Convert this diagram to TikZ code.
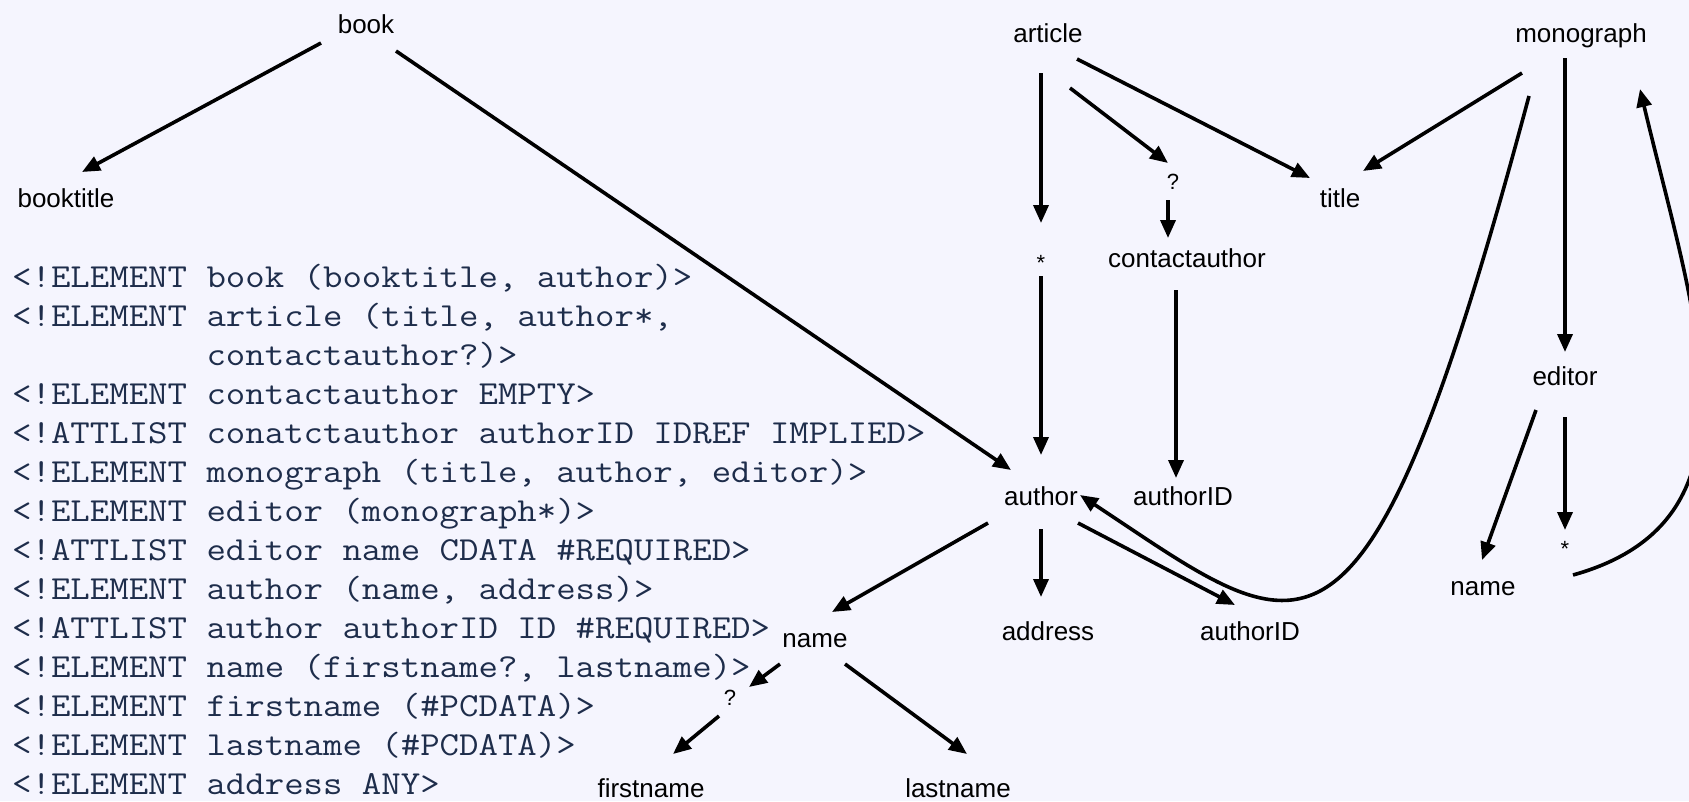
\documentclass[tikz,border=0pt]{standalone}
\usepackage{fontspec}
\usepackage{graphicx}
\setmainfont{Liberation Sans}
\usetikzlibrary{arrows.meta}

\definecolor{pagebg}{RGB}{245,245,254}
\definecolor{codeink}{RGB}{30,45,75}

\newcommand\labelsize{\fontsize{26}{30}\selectfont}
\newcommand\symsize{\fontsize{22}{26}\selectfont}
\newcommand\codesize{\fontsize{33.6}{39}\selectfont\ttfamily}
\newcommand\codetext[1]{\scalebox{1.123}[1]{#1}}

\tikzset{
  lbl/.style={font=\labelsize, inner sep=0pt, anchor=base},
  sym/.style={font=\symsize, inner sep=0pt, anchor=base},
  code/.style={font=\codesize, text=codeink, inner sep=0pt, anchor=base west},
  arr/.style={line width=3.6pt, -{Triangle[length=18pt,width=15pt]}},
}

\begin{document}
\begin{tikzpicture}[x=1pt,y=-1pt]
  \fill[pagebg] (0,0) rectangle (1689,801);
  \useasboundingbox (0,0) rectangle (1689,801);
  \clip (0,0) rectangle (1689,801);

  % DTD listing
  \node[code] (l1)  at (12,287) {\codetext{<!ELEMENT book (booktitle, author)>}};
  \node[code] (l2)  at (12,326) {\codetext{<!ELEMENT article (title, author*,}};
  \node[code] (l3)  at (12,365) {\codetext{\phantom{<!ELEMENT }contactauthor?)>}};
  \node[code] (l4)  at (12,404) {\codetext{<!ELEMENT contactauthor EMPTY>}};
  \node[code] (l5)  at (12,443) {\codetext{<!ATTLIST conatctauthor authorID IDREF IMPLIED>}};
  \node[code] (l6)  at (12,482) {\codetext{<!ELEMENT monograph (title, author, editor)>}};
  \node[code] (l7)  at (12,521) {\codetext{<!ELEMENT editor (monograph*)>}};
  \node[code] (l8)  at (12,560) {\codetext{<!ATTLIST editor name CDATA \#REQUIRED>}};
  \node[code] (l9)  at (12,599) {\codetext{<!ELEMENT author (name, address)>}};
  \node[code] (l10) at (12,638) {\codetext{<!ATTLIST author authorID ID \#REQUIRED>}};
  \node[code] (l11) at (12,677) {\codetext{<!ELEMENT name (firstname?, lastname)>}};
  \node[code] (l12) at (12,716) {\codetext{<!ELEMENT firstname (\#PCDATA)>}};
  \node[code] (l13) at (12,755) {\codetext{<!ELEMENT lastname (\#PCDATA)>}};
  \node[code] (l14) at (12,794) {\codetext{<!ELEMENT address ANY>}};

  % element tree
  \node[lbl] (book)      at (366,33)   {book};
  \node[lbl] (booktitle) at (66,207)   {booktitle};
  \node[lbl] (article)   at (1048,42)  {article};
  \node[lbl] (monograph) at (1581,42)  {monograph};
  \node[lbl] (title)     at (1340,207) {title};
  \node[sym] (q1)        at (1173,189) {?};
  \node[sym] (star1)     at (1041,270) {*};
  \node[lbl] (contact)   at (1187,267) {contactauthor};
  \node[lbl] (author)    at (1041,505) {author};
  \node[lbl] (authorid1) at (1183,505) {authorID};
  \node[lbl] (address)   at (1048,640) {address};
  \node[lbl] (authorid2) at (1250,640) {authorID};
  \node[lbl] (name1)     at (815,647)  {name};
  \node[sym] (q2)        at (730,705)  {?};
  \node[lbl] (firstname) at (651,797)  {firstname};
  \node[lbl] (lastname)  at (958,797)  {lastname};
  \node[lbl] (editor)    at (1565,385) {editor};
  \node[lbl] (name2)     at (1483,595) {name};
  \node[sym] (star2)     at (1565,556) {*};

  % connectors
  \draw[arr] ([shift={(-45,10)}]book.base) -- ([shift={(16,-35)}]booktitle.base);
  \draw[arr] ([shift={(30,18)}]book.base) -- ([shift={(-30,-35)}]author.base);
  \draw[arr] ([shift={(-7,31)}]article.base) -- ([shift={(0,-47)}]star1.base);
  \draw[arr] ([shift={(22,46)}]article.base) -- ([shift={(-5,-26)}]q1.base);
  \draw[arr] ([shift={(29,17)}]article.base) -- ([shift={(-30,-29)}]title.base);
  \draw[arr] ([shift={(-5,11)}]q1.base) -- ([shift={(-19,-29)}]contact.base);
  \draw[arr] ([shift={(0,6)}]star1.base) -- ([shift={(0,-50)}]author.base);
  \draw[arr] ([shift={(-11,23)}]contact.base) -- ([shift={(-7,-27)}]authorid1.base);
  \draw[arr] ([shift={(-59,31)}]monograph.base) -- ([shift={(23,-36)}]title.base);
  \draw[arr] ([shift={(-16,16)}]monograph.base) -- ([shift={(0,-33)}]editor.base);
  \draw[arr] ([shift={(-52,54)}]monograph.base)
     .. controls +(-166,620) and +(227,150) .. ([shift={(39,-10)}]author.base);
  \draw[arr] ([shift={(-29,25)}]editor.base) -- ([shift={(-1,-35)}]name2.base);
  \draw[arr] ([shift={(0,32)}]editor.base) -- ([shift={(0,-26)}]star2.base);
  \draw[arr] ([shift={(8,19)}]star2.base)
     .. controls +(197,-55) and +(55,231) .. ([shift={(59,47)}]monograph.base);
  \draw[arr] ([shift={(-53,18)}]author.base) -- ([shift={(17,-35)}]name1.base);
  \draw[arr] ([shift={(0,24)}]author.base) -- ([shift={(-7,-43)}]address.base);
  \draw[arr] ([shift={(37,18)}]author.base) -- ([shift={(-15,-35)}]authorid2.base);
  \draw[arr] ([shift={(-35,17)}]name1.base) -- ([shift={(19,-18)}]q2.base);
  \draw[arr] ([shift={(-11,11)}]q2.base) -- ([shift={(22,-43)}]firstname.base);
  \draw[arr] ([shift={(30,17)}]name1.base) -- ([shift={(9,-43)}]lastname.base);
\end{tikzpicture}
\end{document}
